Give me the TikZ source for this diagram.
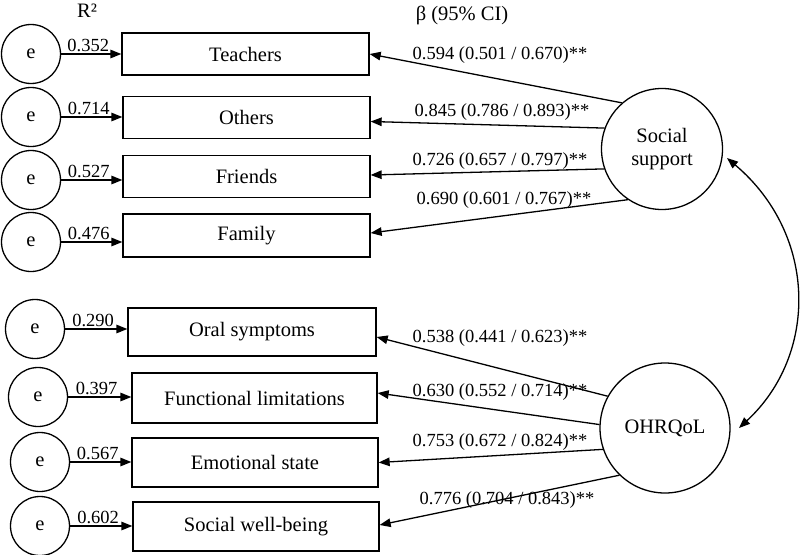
\documentclass[tikz,border=0pt]{standalone}
\usepackage{fontspec}
\setmainfont{Liberation Serif}
\usetikzlibrary{arrows.meta}
\tikzset{
  box/.style={draw, line width=1.3pt, inner sep=0pt, font=\fontsize{20.5}{24}\selectfont},
  errc/.style={draw, circle, line width=1.3pt, minimum size=59pt, inner sep=0pt, font=\fontsize{20.5}{24}\selectfont},
  latent/.style={draw, circle, line width=1.3pt, inner sep=0pt, align=center, font=\fontsize{20.5}{23}\selectfont},
  arr/.style={line width=1.3pt, -{Triangle[length=11pt,width=8.5pt]}},
  darr/.style={line width=1.3pt, {Triangle[length=11pt,width=8.5pt]}-{Triangle[length=11pt,width=8.5pt]}},
  lbl/.style={inner sep=0pt, font=\fontsize{18.5}{22}\selectfont},
  rlbl/.style={above, inner sep=1.5pt, font=\fontsize{18.5}{22}\selectfont},
  head/.style={inner sep=0pt, font=\fontsize{20.5}{24}\selectfont}
}
\begin{document}
\begin{tikzpicture}[x=1pt,y=-1pt]
\useasboundingbox[fill=white] (0,0) rectangle (800,554);
% headers
\node[head] (hr) at (87,11) {R²};
\node[head] (hb) at (462,15) {β (95\% CI)};
% indicator boxes
\node[box, minimum width=247pt, minimum height=42pt] (teach) at (245.5,54) {Teachers};
\node[box, minimum width=247pt, minimum height=42pt] (oth) at (246.5,117.5) {Others};
\node[box, minimum width=247pt, minimum height=42pt] (fri) at (246.5,176.5) {Friends};
\node[box, minimum width=247pt, minimum height=43pt] (fam) at (246.5,235.5) {Family};
\node[box, minimum width=248pt, minimum height=48pt] (oral) at (252,332) {Oral symptoms};
\node[box, minimum width=245pt, minimum height=50pt] (func) at (254.5,398) {Functional limitations};
\node[box, minimum width=246pt, minimum height=49pt] (emo) at (255,462.5) {Emotional state};
\node[box, minimum width=246pt, minimum height=49pt] (soc) at (256,526.5) {Social well-being};
% error circles
\node[errc] (e1) at (31,54) {e};
\node[errc] (e2) at (31,117) {e};
\node[errc] (e3) at (31,180) {e};
\node[errc] (e4) at (31,242) {e};
\node[errc] (e5) at (35,329) {e};
\node[errc] (e6) at (38,397) {e};
\node[errc] (e7) at (40,462) {e};
\node[errc] (e8) at (40,526) {e};
% latent variables
\node[latent, minimum size=121pt] (ss) at (662,149) {Social\\support};
\node[latent, minimum size=130pt] (oh) at (665,428) {OHRQoL};
% error arrows with R2
\draw[arr] (e1.east) -- (e1.east -| teach.west) node[rlbl, pos=0.45] {0.352};
\draw[arr] (e2.east) -- (e2.east -| oth.west) node[rlbl, pos=0.45] {0.714};
\draw[arr] (e3.east) -- (e3.east -| fri.west) node[rlbl, pos=0.45] {0.527};
\draw[arr] (e4.east) -- (e4.east -| fam.west) node[rlbl, pos=0.45] {0.476};
\draw[arr] (e5.east) -- (e5.east -| oral.west) node[rlbl, pos=0.45] {0.290};
\draw[arr] (e6.east) -- (e6.east -| func.west) node[rlbl, pos=0.45] {0.397};
\draw[arr] (e7.east) -- (e7.east -| emo.west) node[rlbl, pos=0.45] {0.567};
\draw[arr] (e8.east) -- (e8.east -| soc.west) node[rlbl, pos=0.45] {0.602};
% loadings
\draw[arr] (ss.131) -- (teach.east);
\draw[arr] (ss.160) -- ([yshift=-4pt]oth.east);
\draw[arr] (ss.199) -- ([yshift=1.5pt]fri.east);
\draw[arr] (ss.236) -- ([yshift=2.5pt]fam.east);
\draw[arr] (oh.151) -- ([yshift=-5pt]oral.east);
\draw[arr] (oh.177) -- ([yshift=5pt]func.east);
\draw[arr] (oh.199) -- (emo.east);
\draw[arr] (oh.226) -- ([yshift=1.5pt]soc.east);
% loading labels
\node[lbl] (b1) at (500,55) {0.594 (0.501 / 0.670)**};
\node[lbl] (b2) at (502,112) {0.845 (0.786 / 0.893)**};
\node[lbl] (b3) at (500,161) {0.726 (0.657 / 0.797)**};
\node[lbl] (b4) at (504,200) {0.690 (0.601 / 0.767)**};
\node[lbl] (b5) at (500,338) {0.538 (0.441 / 0.623)**};
\node[lbl] (b6) at (500,392) {0.630 (0.552 / 0.714)**};
\node[lbl] (b7) at (500,442) {0.753 (0.672 / 0.824)**};
\node[lbl] (b8) at (507,500) {0.776 (0.704 / 0.843)**};
% correlation
\coordinate (sstip) at (727,158);
\coordinate (ohtip) at (739,428);
\draw[darr] (sstip) .. controls (818,235) and (818,355) .. (ohtip);
\end{tikzpicture}
\end{document}
